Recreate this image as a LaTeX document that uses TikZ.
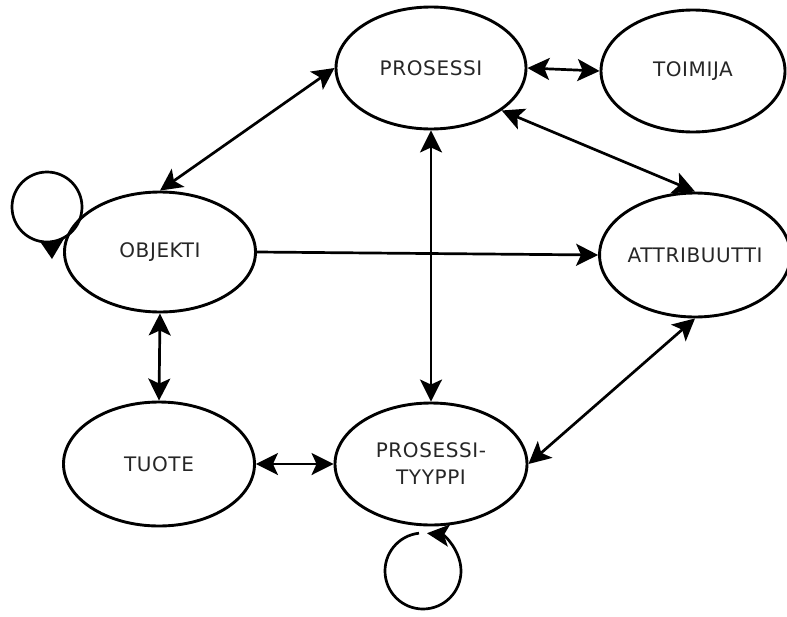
\documentclass[tikz,border=0pt]{standalone}
\usepackage{fontspec}
\setmainfont{DejaVu Sans}[LetterSpace=3]
\usetikzlibrary{arrows.meta,shapes.geometric}
\begin{document}
\begin{tikzpicture}[x=1pt,y=-1pt,
  tip/.tip={Stealth[length=22pt,width=22pt,inset=5pt]},
  state/.style={draw, ellipse, line width=2.9pt, inner sep=0pt,
    text=black!85, align=center, font=\fontsize{20}{27}\selectfont},
  link/.style={line width=2.7pt, tip-tip},
  onelink/.style={line width=2.7pt, -tip},
  loopline/.style={line width=2.7pt}]
\useasboundingbox (0,0) rectangle (787,616);

% entities
\node[state, minimum width=190pt, minimum height=122pt] (pro) at (431,68) {PROSESSI};
\node[state, minimum width=184pt, minimum height=122pt] (toi) at (693,71) {TOIMIJA};
\node[state, minimum width=191pt, minimum height=120pt] (obj) at (160,252) {OBJEKTI};
\node[state, minimum width=182pt, minimum height=124pt] (att) at (695,255) {ATTRIBUUTTI};
\node[state, minimum width=191pt, minimum height=124pt] (tuo) at (159,464) {TUOTE};
\node[state, minimum width=192pt, minimum height=122pt] (pt)  at (431,464) {PROSESSI-\\TYYPPI};

% relations
\draw[link] (pro.east) -- (toi.west);
\draw[link] (pro.west) -- (obj.north);
\draw[link] (pro.-31) -- (att.north);
\draw[link] (pro.south) -- (pt.north);
\draw[onelink] (obj.east) -- (att.west);
\draw[link] (obj.south) -- (tuo.north);
\draw[link] (tuo.east) -- (pt.west);
\draw[link] (pt.east) -- (att.south);

% self relations
\coordinate (objloop) at (47,207);
\draw[loopline] (objloop) circle[radius=35];
\fill (39,240) -- (52,259) -- (65,237) -- (52,243) -- cycle;

\coordinate (ptloop) at (423,571);
\draw[loopline, -tip] ([shift={(-96:38)}]ptloop) arc[start angle=-96, end angle=-444, radius=38];
\end{tikzpicture}
\end{document}
